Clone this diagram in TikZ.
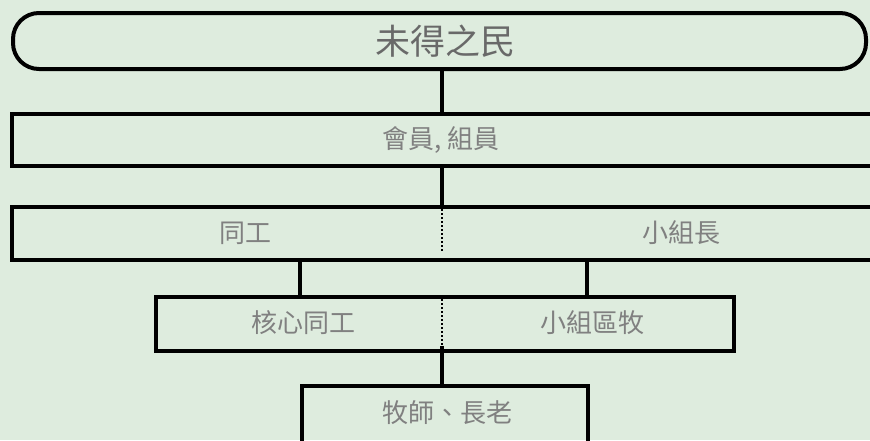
\documentclass[tikz,border=0pt]{standalone}
\usepackage{fontspec}
\setmainfont{Noto Sans CJK TC}
\usetikzlibrary{positioning}
\definecolor{bggreen}{RGB}{222,236,222}
\definecolor{txtgray}{RGB}{128,128,128}
\definecolor{titlegray}{RGB}{105,105,105}

\begin{document}
\begin{tikzpicture}[x=0.5pt, y=-0.5pt, common/.style={draw, line width=2pt, inner sep=0pt}, font=\fontsize{13}{15}\selectfont]
\tikzstyle{texto}=[text=txtgray, inner sep=0pt]
\tikzstyle{link}=[line width=1.6pt]
\tikzstyle{split}=[line width=1.1pt, dash pattern=on 1pt off 1pt]

\clip (0,0) rectangle (870,440);
\fill [bggreen] (0,0) rectangle (870,440);

\node (C1) [common, rounded corners=13pt, minimum width=426.5pt, minimum height=28pt] at (439.5,41) {};
\node (C2) [common, minimum width=440pt, minimum height=26pt] at (452,140) {};
\node (C3) [common, minimum width=440pt, minimum height=26.5pt] at (452,233.5) {};
\node (C4) [common, minimum width=289pt, minimum height=27pt] at (445,324) {};
\node (C5) [common, minimum width=143pt, minimum height=42pt] at (445,428) {};

% textos
\node (T1) [texto, text=titlegray, font=\fontsize{17.5}{20}\selectfont] at (445,41) {未得之民};
\node (T2) [texto] at (441,140) {會員, 組員};
\node (T3) [texto] at (245,233) {同工};
\node (T4) [texto] at (681,233) {小組長};
\node (T5) [texto] at (303,323) {核心同工};
\node (T6) [texto] at (592,323) {小組區牧};
\node (T7) [texto] at (447,413) {牧師、長老};

\coordinate (axis) at (442,0);
\coordinate (cL) at (300,0);
\coordinate (cR) at (587,0);

% arriba
\draw [link] (axis |- C1.south) -- (axis |- C2.north);
\draw [link] (axis |- C2.south) -- (axis |- C3.north);

% medio
\draw [split] (axis |- C3.north) -- ++(0,48);
\draw [link] (cL |- C3.south) -- (cL |- C4.north);
\draw [link] (cR |- C3.south) -- (cR |- C4.north);

% abajo
\draw [split] (axis |- C4.north) -- ++(0,50);
\draw [link] (axis |- C5.north) -- ++(0,-38);
\end{tikzpicture}
\end{document}
